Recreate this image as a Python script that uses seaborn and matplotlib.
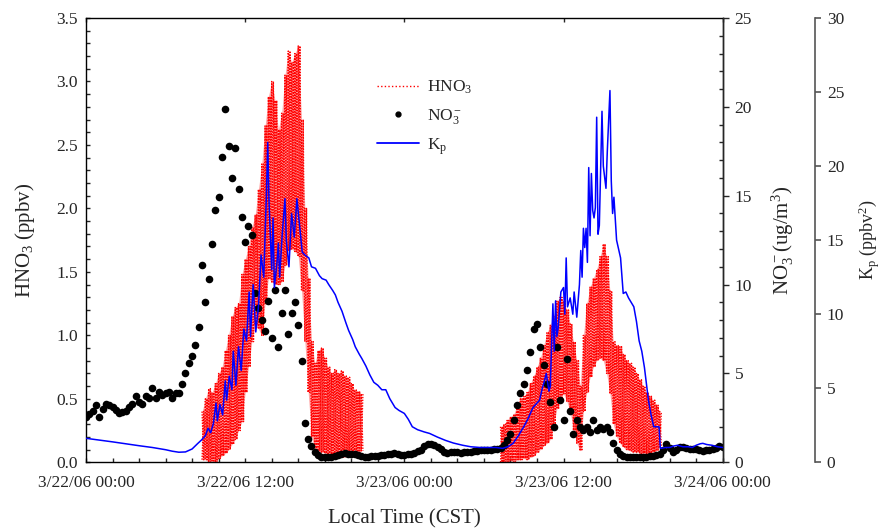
import numpy as np
import pandas as pd
import matplotlib
matplotlib.use("Agg")
import matplotlib.pyplot as plt
import seaborn as sns
from matplotlib.lines import Line2D
from matplotlib.ticker import MultipleLocator, FixedLocator

# ---------------- data (hours after 3/22/06 00:00 CST) ----------------
tick_hours = [0, 12, 24, 36, 48]
tick_labels = ["3/22/06 00:00", "3/22/06 12:00", "3/23/06 00:00",
               "3/23/06 12:00", "3/24/06 00:00"]

# HNO3 (ppbv): upper / lower swing of the fast signal, every 0.25 h
hno3_ep1_start = 8.75
hno3_ep1_hi = [0.40, 0.50, 0.58, 0.55, 0.62, 0.70, 0.75, 0.88, 1.00, 1.15,
               1.22, 1.25, 1.48, 1.60, 1.70, 1.85, 1.95, 2.15, 2.35, 2.65,
               2.88, 3.00, 2.85, 2.62, 2.75, 3.05, 3.24, 3.15, 3.22, 3.28,
               2.70, 2.00, 1.45, 0.95, 0.78, 0.88, 0.90, 0.82, 0.75, 0.70,
               0.73, 0.70, 0.72, 0.68, 0.67, 0.62, 0.57, 0.56, 0.54]
hno3_ep1_lo = [0.02, 0.02, 0.00, 0.01, 0.00, 0.03, 0.05, 0.07, 0.10, 0.14,
               0.18, 0.25, 0.32, 0.55, 0.75, 0.95, 1.08, 1.05, 1.00, 1.25,
               1.45, 1.42, 1.40, 1.40, 1.42, 1.55, 1.67, 1.68, 1.66, 1.62,
               1.35, 0.95, 0.55, 0.20, 0.10, 0.09, 0.08, 0.07, 0.06, 0.05,
               0.05, 0.04, 0.04, 0.04, 0.05, 0.04, 0.04, 0.06, 0.09]
hno3_ep2_start = 31.25
hno3_ep2_hi = [0.28, 0.30, 0.33, 0.36, 0.38, 0.45, 0.50, 0.52, 0.55, 0.62,
               0.68, 0.75, 0.82, 0.92, 1.02, 1.08, 1.15, 1.27, 1.30, 1.27,
               1.20, 1.09, 0.95, 0.80, 0.60, 1.00, 1.25, 1.38, 1.45, 1.52,
               1.62, 1.72, 1.62, 1.35, 0.95, 0.92, 0.91, 0.85, 0.80, 0.78,
               0.75, 0.70, 0.65, 0.60, 0.55, 0.52, 0.49, 0.45, 0.40]
hno3_ep2_lo = [0.00, 0.00, 0.00, 0.01, 0.00, 0.02, 0.02, 0.03, 0.02, 0.04,
               0.05, 0.08, 0.10, 0.13, 0.15, 0.18, 0.30, 0.42, 0.50, 0.54,
               0.48, 0.40, 0.25, 0.15, 0.09, 0.40, 0.55, 0.67, 0.75, 0.80,
               0.82, 0.80, 0.70, 0.54, 0.30, 0.20, 0.15, 0.12, 0.10, 0.09,
               0.08, 0.08, 0.07, 0.07, 0.07, 0.07, 0.08, 0.09, 0.12]

# NO3- (ug/m3), every 0.25 h from 0 to 48 h
no3_values = [
    2.55, 2.70, 2.90, 3.20,  2.55, 3.00, 3.30, 3.20,  3.10, 2.95, 2.80, 2.85,
    2.90, 3.10, 3.30, 3.75,  3.40, 3.30, 3.75, 3.60,  4.20, 3.60, 3.95, 3.80,
    3.90, 3.95, 3.60, 3.90,  3.90, 4.40, 5.00, 5.60,  6.00, 6.60, 7.60, 11.10,
    9.00, 10.30, 12.30, 14.20,  14.90, 17.20, 19.90, 17.80,  16.00, 17.70, 15.40, 13.80,
    12.40, 13.30, 12.80, 9.50,  8.70, 8.00, 7.40, 9.10,  7.00, 9.70, 6.50, 8.40,
    9.70, 7.20, 8.40, 9.00,  7.70, 5.70, 2.20, 1.30,  0.90, 0.60, 0.40, 0.30,
    0.28, 0.30, 0.32, 0.35,  0.40, 0.45, 0.50, 0.49,  0.47, 0.45, 0.40, 0.33,
    0.30, 0.32, 0.35, 0.33,  0.38, 0.40, 0.42, 0.45,  0.48, 0.50, 0.47, 0.42,
    0.39, 0.45, 0.49, 0.55,  0.62, 0.70, 0.90, 1.05,  1.05, 0.95, 0.86, 0.75,
    0.60, 0.55, 0.58, 0.60,  0.58, 0.55, 0.60, 0.58,  0.60, 0.62, 0.66, 0.68,
    0.70, 0.70, 0.72, 0.75,  0.77, 0.80, 1.00, 1.24,  1.60, 2.40, 3.20, 3.90,
    4.40, 5.20, 6.20, 7.50,  7.80, 6.50, 5.50, 4.40,  3.40, 2.00, 6.50, 3.50,
    2.40, 5.80, 2.90, 1.60,  2.40, 2.00, 1.80, 2.00,  1.70, 2.40, 1.80, 2.00,
    1.90, 2.00, 1.70, 1.10,  0.70, 0.45, 0.35, 0.30,  0.30, 0.28, 0.30, 0.30,
    0.32, 0.30, 0.33, 0.35,  0.40, 0.45, 0.70, 1.05,  0.80, 0.60, 0.70, 0.85,
    0.85, 0.80, 0.75, 0.77,  0.77, 0.70, 0.65, 0.68,  0.72, 0.77, 0.80, 0.90,
    0.85]

# Kp (ppbv^2)
kp_hours = [0.0, 1.0, 2.0, 3.0, 4.0, 5.0, 6.0, 6.5, 7.0, 7.5, 8.0, 8.4, 8.7,
            9.0, 9.2, 9.4, 9.6, 9.8, 9.9, 10.1, 10.3, 10.5, 10.6, 10.8, 11.0,
            11.1, 11.3, 11.5, 11.7, 11.9, 12.1, 12.3, 12.4, 12.6, 12.8, 13.0,
            13.2, 13.4, 13.6, 13.7, 13.8, 14.0, 14.1, 14.2, 14.4, 14.5, 14.6,
            14.8, 15.0, 15.1, 15.3, 15.5, 15.7, 15.9, 16.1, 16.3, 16.5, 16.8,
            17.0, 17.3, 17.6, 17.8, 18.1, 18.3, 18.6, 18.8, 19.0, 19.3, 19.6,
            19.8, 20.1, 20.3, 20.6, 20.8, 21.1, 21.4, 21.7, 22.0, 22.3, 22.6,
            22.9, 23.3, 23.6, 24.0, 24.3, 24.6, 25.0, 25.5, 25.9, 26.5, 27.1,
            27.7, 28.4, 29.0, 29.7, 30.3, 30.9, 31.4, 31.8, 32.2, 32.6, 33.0,
            33.3, 33.7, 34.0, 34.2, 34.4, 34.5, 34.7, 34.9, 35.0, 35.2, 35.3,
            35.4, 35.5, 35.6, 35.8, 36.0, 36.1, 36.2, 36.3, 36.5, 36.7, 36.8,
            37.0, 37.2, 37.3, 37.4, 37.5, 37.6, 37.7, 37.8, 37.9, 38.0, 38.1,
            38.2, 38.3, 38.4, 38.5, 38.6, 38.7, 38.9, 39.0, 39.2, 39.3, 39.5,
            39.6, 39.7, 39.8, 39.9, 40.0, 40.2, 40.3, 40.5, 40.7, 40.9, 41.1,
            41.3, 41.5, 41.7, 41.9, 42.1, 42.4, 42.6, 42.8, 43.2, 43.3, 43.7,
            44.0, 44.3, 44.6, 45.0, 45.4, 45.7, 46.0, 46.3, 46.5, 46.8, 47.2,
            47.6, 48.0]
kp_values = [1.62, 1.50, 1.38, 1.25, 1.12, 1.00, 0.85, 0.75, 0.68, 0.70, 0.90,
             1.25, 1.50, 1.80, 2.30, 2.00, 2.60, 4.00, 2.80, 3.90, 3.20, 5.50,
             4.20, 5.80, 4.90, 7.50, 5.20, 7.80, 6.20, 9.00, 8.20, 11.50, 8.50,
             12.00, 8.80, 10.50, 14.00, 12.50, 18.00, 21.60, 17.50, 13.00,
             16.50, 11.80, 13.50, 14.80, 12.50, 15.50, 17.80, 15.00, 13.20,
             16.80, 15.20, 17.80, 16.00, 14.20, 14.00, 13.80, 13.20, 13.10,
             12.60, 12.40, 12.30, 12.00, 11.60, 11.30, 10.80, 10.20, 9.40, 8.90,
             8.30, 7.80, 7.30, 7.00, 6.50, 5.90, 5.40, 5.20, 4.90, 4.90, 4.30,
             3.70, 3.50, 3.30, 2.90, 2.40, 2.20, 2.05, 1.95, 1.70, 1.48, 1.30,
             1.15, 1.05, 1.00, 1.00, 1.00, 0.94, 1.05, 1.28, 1.80, 2.40, 2.90,
             3.70, 4.00, 4.20, 5.00, 5.30, 6.00, 4.80, 5.10, 10.70, 7.50, 10.90,
             8.50, 9.10, 11.50, 11.80, 10.00, 13.80, 10.50, 11.10, 10.00, 11.50,
             9.80, 12.00, 14.30, 12.50, 15.80, 14.50, 15.80, 13.50, 19.90,
             15.30, 19.50, 17.00, 16.50, 17.20, 23.30, 15.40, 16.00, 23.70,
             20.00, 18.50, 21.00, 25.10, 19.00, 16.80, 17.90, 16.50, 15.00,
             14.20, 13.80, 11.40, 11.50, 11.10, 10.80, 10.50, 9.50, 8.20, 7.50,
             6.40, 4.20, 3.20, 2.40, 2.40, 0.94, 1.00, 1.00, 1.10, 1.15, 1.05,
             1.05, 1.00, 1.15, 1.25, 1.28, 1.20, 1.15, 1.05, 1.00]


def zigzag(start, hi, lo, step=0.25, phase=0):
    t = start + step * np.arange(len(hi))
    first, second = (hi, lo) if phase == 0 else (lo, hi)
    tt = np.column_stack([t, t + step / 2]).ravel()
    vv = np.column_stack([first, second]).ravel()
    return pd.DataFrame({"hour": tt, "hno3": vv})


episodes = [(hno3_ep1_start, hno3_ep1_hi, hno3_ep1_lo),
            (hno3_ep2_start, hno3_ep2_hi, hno3_ep2_lo)]
no3_df = pd.DataFrame({"hour": 0.25 * np.arange(len(no3_values)), "no3": no3_values})
kp_df = pd.DataFrame({"hour": kp_hours, "kp": kp_values})

# ---------------- style ----------------
sns.set_theme(style="ticks")
plt.rcParams["font.family"] = ["Liberation Serif", "DejaVu Serif"]
plt.rcParams["mathtext.fontset"] = "custom"
plt.rcParams["mathtext.rm"] = "Liberation Serif"
plt.rcParams["mathtext.it"] = "Liberation Serif:italic"
plt.rcParams["mathtext.default"] = "regular"
plt.rcParams["axes.linewidth"] = 1.0

W, H = 888, 531
fig = plt.figure(figsize=(W / 100, H / 100), dpi=100)
L, R, B, T = 86, 722.7, 462.3, 18
ax = fig.add_axes([L / W, 1 - B / H, (R - L) / W, (B - T) / H])
ax2 = ax.twinx()
ax3 = ax.twinx()

red = "#ff0000"
blue = "#0000ff"

for start, hi, lo in episodes:
    tgrid = start + 0.25 * np.arange(len(hi))
    ax.fill_between(tgrid, lo, hi, color=red, alpha=0.35, linewidth=0)
    for ph in (0, 1):
        df = zigzag(start, hi, lo, phase=ph)
        sns.lineplot(data=df, x="hour", y="hno3", ax=ax, color=red, sort=False,
                     estimator=None, linewidth=1.0, linestyle=(0, (1, 1.0)))
sns.scatterplot(data=no3_df, x="hour", y="no3", ax=ax2, color="black",
                marker="o", s=30, linewidth=0)
sns.lineplot(data=kp_df, x="hour", y="kp", ax=ax3, color=blue, sort=False,
             estimator=None, linewidth=1.1)

tick_fs = 12.5
lab_fs = 15

# main axis
ax.set_xlim(0, 48)
ax.set_ylim(0, 3.5)
ax.xaxis.set_major_locator(FixedLocator(tick_hours))
ax.set_xticklabels(tick_labels)
ax.xaxis.set_minor_locator(MultipleLocator(2))
ax.set_yticks(np.arange(0, 3.51, 0.5))
ax.set_yticklabels([f"{v:.1f}" for v in np.arange(0, 3.51, 0.5)])
ax.yaxis.set_minor_locator(MultipleLocator(0.1))
ax.tick_params(axis="x", which="major", direction="in", length=3, top=True,
               labelsize=tick_fs, pad=9, width=1)
ax.tick_params(axis="x", which="minor", direction="in", length=3, top=False, width=1)
ax.tick_params(axis="y", which="both", direction="in", length=3, right=False,
               labelsize=tick_fs, pad=6, width=1)
ax.set_xlabel("Local Time (CST)", fontsize=lab_fs, labelpad=13)
ax.set_ylabel("HNO$_3$ (ppbv)", fontsize=lab_fs, labelpad=14)
for s in ax.spines.values():
    s.set_color("black")

# NO3 axis
ax2.set_ylim(0, 25)
ax2.yaxis.set_major_locator(MultipleLocator(5))
ax2.yaxis.set_minor_locator(MultipleLocator(1))
ax2.tick_params(axis="y", which="major", direction="out", length=4.5,
                labelsize=tick_fs, pad=4, width=1)
ax2.tick_params(axis="y", which="minor", direction="in", length=3, width=1)
ax2.set_ylabel("NO$_3^-$(ug/m$^3$)", fontsize=lab_fs, labelpad=13)
for k in ("top", "left", "bottom"):
    ax2.spines[k].set_visible(False)

# Kp axis
gray = "#555555"
ax3.set_ylim(0, 30)
ax3.spines["right"].set_position(("outward", (815 - R) * 0.72))
ax3.spines["right"].set_color(gray)
ax3.spines["right"].set_linewidth(1.2)
for k in ("top", "left", "bottom"):
    ax3.spines[k].set_visible(False)
ax3.yaxis.set_major_locator(MultipleLocator(5))
ax3.tick_params(axis="y", which="major", direction="out", length=4.5,
                labelsize=tick_fs, pad=4, color=gray, width=1.2)
ax3.set_ylabel("K$_p$ (ppbv$^2$)", fontsize=13, labelpad=9)

# legend
handles = [
    Line2D([], [], color=red, linestyle=(0, (1, 1.6)), linewidth=1.0),
    Line2D([], [], color="black", marker="o", markersize=3.5, linestyle="none"),
    Line2D([], [], color=blue, linewidth=1.3),
]
leg = ax3.legend(handles, ["HNO$_3$", "NO$_3^-$", "K$_p$"], frameon=False,
                 loc="upper left", bbox_to_anchor=(377 / W, 1 - 79 / H),
                 bbox_transform=fig.transFigure, fontsize=12.5, handlelength=2.4,
                 handletextpad=0.5, labelspacing=0.6, borderpad=0, borderaxespad=0)

fig.savefig("out.png", dpi=100)
